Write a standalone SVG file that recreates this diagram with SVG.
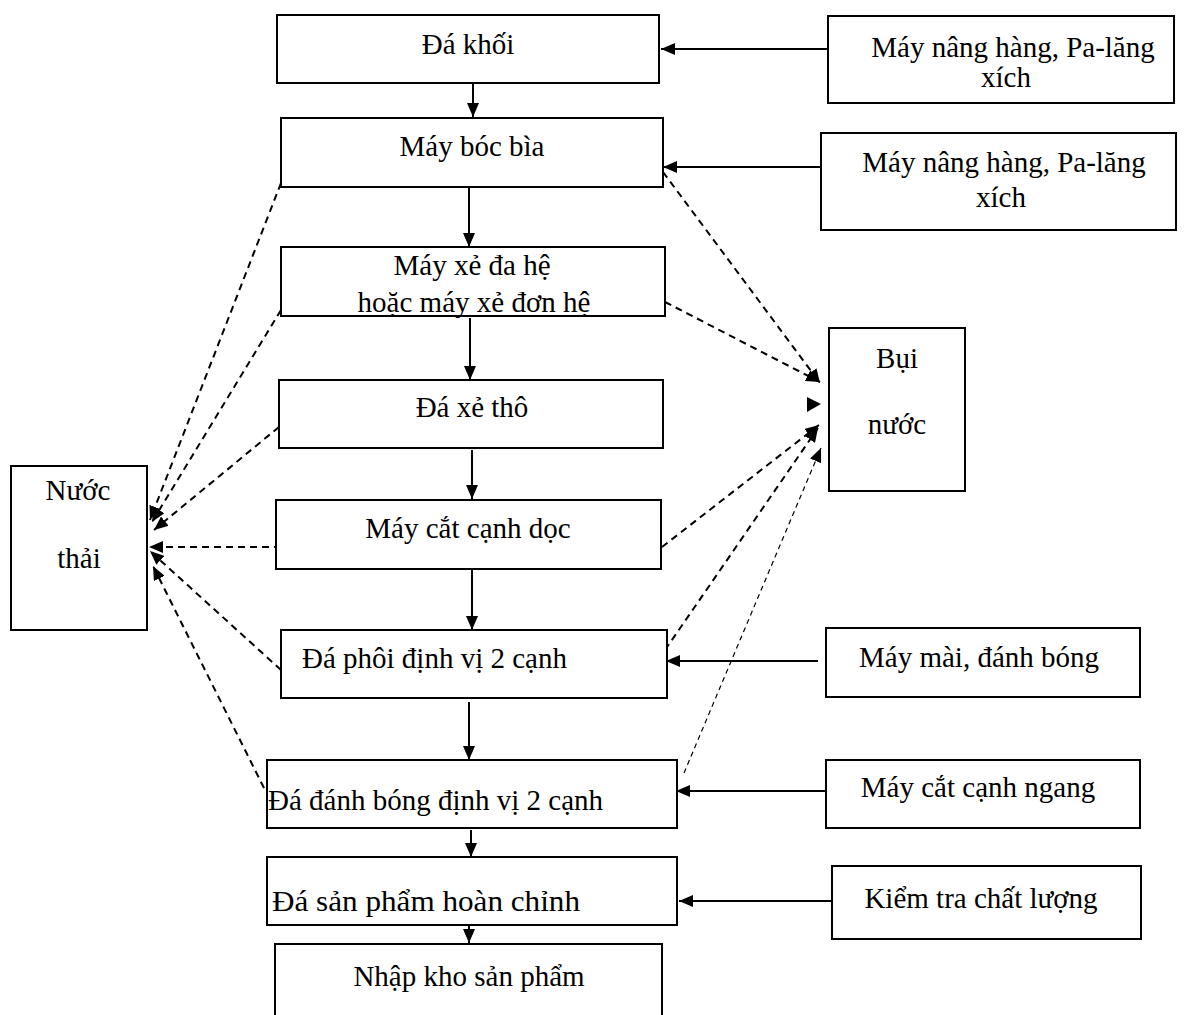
<svg xmlns="http://www.w3.org/2000/svg" width="1186" height="1015" viewBox="0 0 1186 1015">
<style>
.box{fill:#fff;stroke:#000;stroke-width:2}
text{font-family:"Liberation Serif","Times New Roman",serif;font-size:29px;fill:#000}
.c{text-anchor:middle}
.solid{stroke:#000;stroke-width:2;fill:none}
.dash{stroke:#000;stroke-width:2;stroke-dasharray:7 5;fill:none}
.thin{stroke:#000;stroke-width:1.2;stroke-dasharray:5 4;fill:none}
</style>
<defs>
<marker id="ah" viewBox="0 0 14 12" refX="14" refY="6" markerWidth="14" markerHeight="12" markerUnits="userSpaceOnUse" orient="auto"><path d="M0,0 L14,6 L0,12 z" fill="#000"/></marker>
</defs>
<rect width="1186" height="1015" fill="#fff"/>
<g id="connectors">
<line class="solid" x1="473" y1="84" x2="473" y2="117" marker-end="url(#ah)"/>
<line class="solid" x1="469" y1="188" x2="469" y2="247" marker-end="url(#ah)"/>
<line class="solid" x1="470" y1="318" x2="470" y2="380" marker-end="url(#ah)"/>
<line class="solid" x1="472" y1="450" x2="472" y2="499" marker-end="url(#ah)"/>
<line class="solid" x1="472" y1="570" x2="472" y2="630" marker-end="url(#ah)"/>
<line class="solid" x1="469" y1="702" x2="469" y2="760" marker-end="url(#ah)"/>
<line class="solid" x1="471" y1="830" x2="471" y2="857" marker-end="url(#ah)"/>
<line class="solid" x1="469" y1="926" x2="469" y2="943" marker-end="url(#ah)"/>
<line class="solid" x1="828" y1="49" x2="661" y2="49" marker-end="url(#ah)"/>
<line class="solid" x1="822" y1="167" x2="663" y2="167" marker-end="url(#ah)"/>
<line class="solid" x1="818" y1="661" x2="666" y2="661" marker-end="url(#ah)"/>
<line class="solid" x1="826" y1="791" x2="676" y2="791" marker-end="url(#ah)"/>
<line class="solid" x1="832" y1="901" x2="679" y2="901" marker-end="url(#ah)"/>
<line class="dash" x1="281" y1="183" x2="150" y2="520" marker-end="url(#ah)"/>
<line class="dash" x1="281" y1="310" x2="152" y2="522" marker-end="url(#ah)"/>
<line class="dash" x1="279" y1="427" x2="154" y2="530" marker-end="url(#ah)"/>
<line class="dash" x1="281" y1="547" x2="149" y2="547" marker-end="url(#ah)"/>
<line class="dash" x1="281" y1="670" x2="150" y2="551" marker-end="url(#ah)"/>
<line class="dash" x1="264" y1="788" x2="153" y2="566" marker-end="url(#ah)"/>
<line class="dash" x1="663" y1="172" x2="820" y2="383" marker-end="url(#ah)"/>
<line class="dash" x1="665" y1="302" x2="820" y2="382" marker-end="url(#ah)"/>
<polygon points="807,397 821,404 807,412" fill="#000"/>
<line class="dash" x1="662" y1="547" x2="819" y2="425" marker-end="url(#ah)"/>
<line class="dash" x1="665" y1="650" x2="818" y2="428" marker-end="url(#ah)"/>
<line class="thin" x1="684" y1="773" x2="821" y2="448" marker-end="url(#ah)"/>
</g>
<g id="n1"><rect class="box" x="277" y="15" width="382" height="68"/><text class="c" x="468" y="54">Đá  khối</text></g>
<g id="n2"><rect class="box" x="281" y="118" width="382" height="69"/><text class="c" x="472" y="156">Máy bóc bìa</text></g>
<g id="n3"><rect class="box" x="281" y="247" width="384" height="69"/><text class="c" x="472" y="275">Máy xẻ đa hệ</text><text class="c" x="474" y="312">hoặc máy xẻ đơn hệ</text></g>
<g id="n4"><rect class="box" x="279" y="380" width="384" height="68"/><text class="c" x="472" y="417">Đá xẻ thô</text></g>
<g id="n5"><rect class="box" x="276" y="500" width="385" height="69"/><text class="c" x="468" y="538">Máy cắt cạnh dọc</text></g>
<g id="n6"><rect class="box" x="281" y="630" width="386" height="68"/><text x="302" y="668">Đá phôi định vị 2 cạnh</text></g>
<g id="n7"><rect class="box" x="267" y="760" width="410" height="68"/><text x="268" y="810">Đá đánh bóng định vị 2 cạnh</text></g>
<g id="n8"><rect class="box" x="267" y="857" width="410" height="68"/><text x="272" y="911" textLength="308" lengthAdjust="spacingAndGlyphs">Đá sản phẩm hoàn chỉnh</text></g>
<g id="n9"><rect class="box" x="275" y="944" width="387" height="80"/><text class="c" x="469" y="986">Nhập kho sản phẩm</text></g>
<g id="r1"><rect class="box" x="828" y="16" width="346" height="87"/><text class="c" x="1013" y="57">Máy nâng hàng, Pa-lăng</text><text class="c" x="1006" y="87">xích</text></g>
<g id="r2"><rect class="box" x="821" y="133" width="355" height="97"/><text class="c" x="1004" y="172">Máy nâng hàng, Pa-lăng</text><text class="c" x="1001" y="207">xích</text></g>
<g id="bui"><rect class="box" x="829" y="328" width="136" height="163"/><text class="c" x="897" y="368">Bụi</text><text class="c" x="897" y="434">nước</text></g>
<g id="nuocthai"><rect class="box" x="11" y="466" width="136" height="164"/><text class="c" x="78" y="500">Nước</text><text class="c" x="79" y="568">thải</text></g>
<g id="r3"><rect class="box" x="826" y="628" width="314" height="69"/><text class="c" x="979" y="667">Máy mài, đánh bóng</text></g>
<g id="r4"><rect class="box" x="826" y="760" width="314" height="68"/><text class="c" x="978" y="797">Máy cắt cạnh ngang</text></g>
<g id="r5"><rect class="box" x="832" y="866" width="309" height="73"/><text class="c" x="981" y="908">Kiểm tra chất lượng</text></g>
</svg>
